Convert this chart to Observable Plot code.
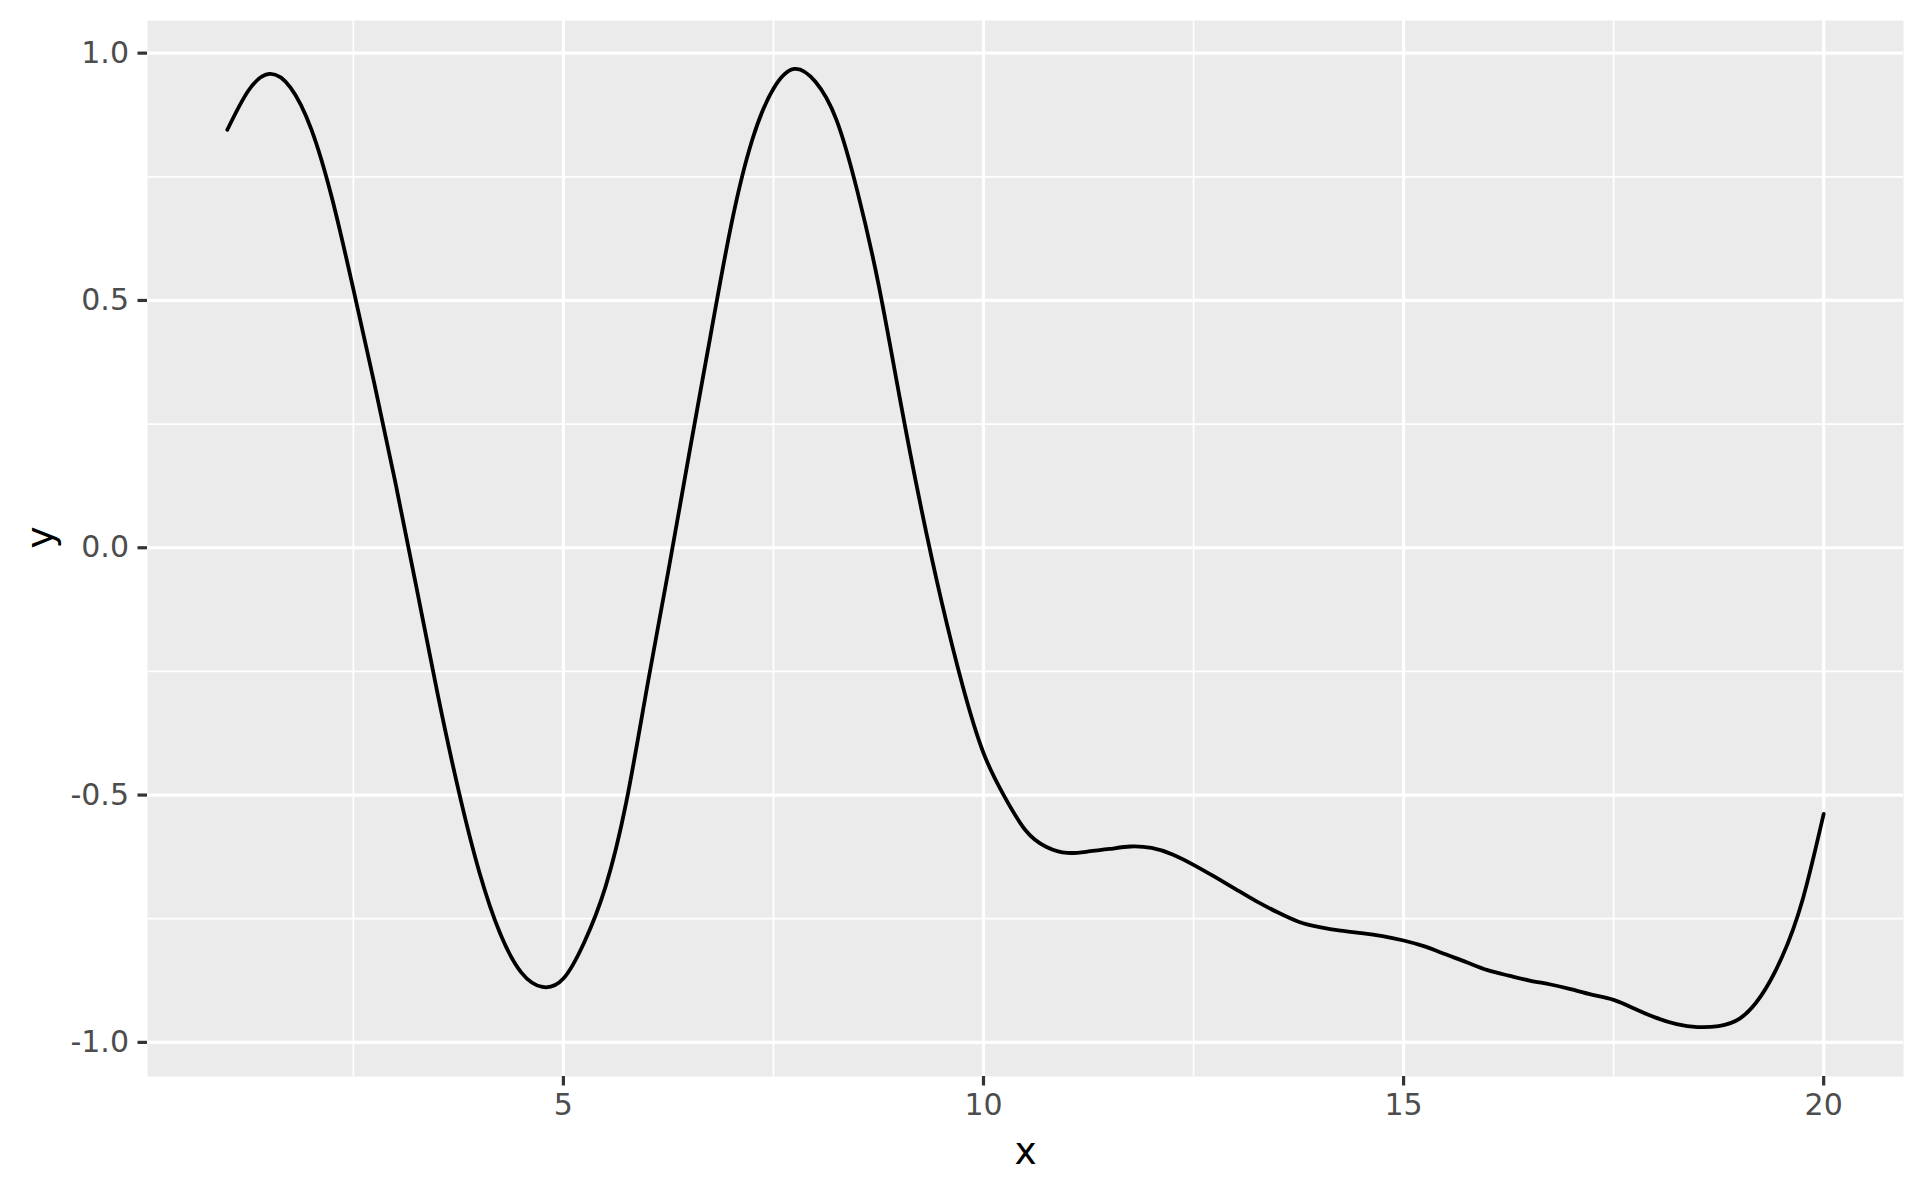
<!DOCTYPE html>
<html>
<head>
<meta charset="utf-8">
<script src="https://cdn.jsdelivr.net/npm/d3@7"></script>
<script src="https://cdn.jsdelivr.net/npm/@observablehq/plot@0.6"></script>
<style>
  html, body { margin: 0; padding: 0; background: #ffffff; }
  #chart svg { display: block; }
</style>
</head>
<body>
<div id="chart"></div>
<script>
// Smoothed curve (x every 0.25 from 1 to 20)
const xs = [1.0, 1.25, 1.5, 1.75, 2.0, 2.25, 2.5, 2.75, 3.0, 3.25, 3.5, 3.75, 4.0, 4.25, 4.5, 4.75,
            5.0, 5.25, 5.5, 5.75, 6.0, 6.25, 6.5, 6.75, 7.0, 7.25, 7.5, 7.75, 8.0, 8.25, 8.5, 8.75,
            9.0, 9.25, 9.5, 9.75, 10.0, 10.25, 10.5, 10.75, 11.0, 11.25, 11.5, 11.75, 12.0, 12.25, 12.5, 12.75,
            13.0, 13.25, 13.5, 13.75, 14.0, 14.25, 14.5, 14.75, 15.0, 15.25, 15.5, 15.75, 16.0, 16.25, 16.5, 16.75,
            17.0, 17.25, 17.5, 17.75, 18.0, 18.25, 18.5, 18.75, 19.0, 19.25, 19.5, 19.75, 20.0];
const ys = [0.845, 0.924, 0.958, 0.931, 0.846, 0.704, 0.523, 0.332, 0.132, -0.079, -0.293, -0.489, -0.656, -0.781, -0.859, -0.888,
            -0.871, -0.797, -0.686, -0.513, -0.278, -0.046, 0.193, 0.428, 0.655, 0.826, 0.928, 0.968, 0.942, 0.865, 0.720, 0.533,
            0.306, 0.087, -0.108, -0.278, -0.415, -0.503, -0.571, -0.605, -0.617, -0.614, -0.609, -0.604, -0.607, -0.620, -0.641, -0.665,
            -0.690, -0.715, -0.737, -0.756, -0.767, -0.774, -0.779, -0.785, -0.794, -0.806, -0.822, -0.838, -0.854, -0.865, -0.875, -0.883,
            -0.893, -0.904, -0.914, -0.932, -0.950, -0.963, -0.969, -0.967, -0.952, -0.907, -0.829, -0.711, -0.538];

// Axis ticks
const xMajor = [5, 10, 15, 20];
const xMinor = [2.5, 7.5, 12.5, 17.5];
const yMajor = [-1.0, -0.5, 0.0, 0.5, 1.0];
const yMinor = [-0.75, -0.25, 0.25, 0.75];
const xTitle = "x";
const yTitle = "y";

const data = xs.map((x, i) => ({x, y: ys[i]}));

const font = "DejaVu Sans, Liberation Sans, sans-serif";

const chart = Plot.plot({
  width: 1924,
  height: 1190,
  marginLeft: 147,
  marginRight: 21,
  marginTop: 20,
  marginBottom: 114,
  style: {fontFamily: font, background: "#ffffff"},
  x: {domain: [0.05, 20.95], label: null},
  y: {domain: [-1.069, 1.066], label: null},
  marks: [
    Plot.frame({fill: "#EBEBEB", stroke: null}),
    Plot.ruleX(xMinor, {stroke: "#ffffff", strokeWidth: 1.7}),
    Plot.ruleY(yMinor, {stroke: "#ffffff", strokeWidth: 1.7}),
    Plot.ruleX(xMajor, {stroke: "#ffffff", strokeWidth: 3.2}),
    Plot.ruleY(yMajor, {stroke: "#ffffff", strokeWidth: 3.2}),
    Plot.line(data, {x: "x", y: "y", stroke: "#000000", strokeWidth: 3.8, curve: "natural"}),
    Plot.axisX(xMajor, {
      anchor: "bottom", tickSize: 9.5, tickPadding: 8, strokeWidth: 3.2,
      stroke: "#333333", fill: "#4D4D4D", fontSize: 30, label: null,
      tickFormat: d => String(d)
    }),
    Plot.axisY(yMajor, {
      anchor: "left", tickSize: 9.5, tickPadding: 9, strokeWidth: 3.2,
      stroke: "#333333", fill: "#4D4D4D", fontSize: 30, label: null,
      tickFormat: d => d3.format(".1f")(d).replace("−", "-")
    }),
    Plot.text([xTitle], {frameAnchor: "bottom", dy: 75, lineAnchor: "middle", fontSize: 37.5, fill: "#000000", text: d => d}),
    Plot.text([yTitle], {frameAnchor: "left", dx: -107, rotate: -90, lineAnchor: "middle", fontSize: 37.5, fill: "#000000", text: d => d})
  ]
});
document.getElementById("chart").appendChild(chart);
</script>
</body>
</html>
